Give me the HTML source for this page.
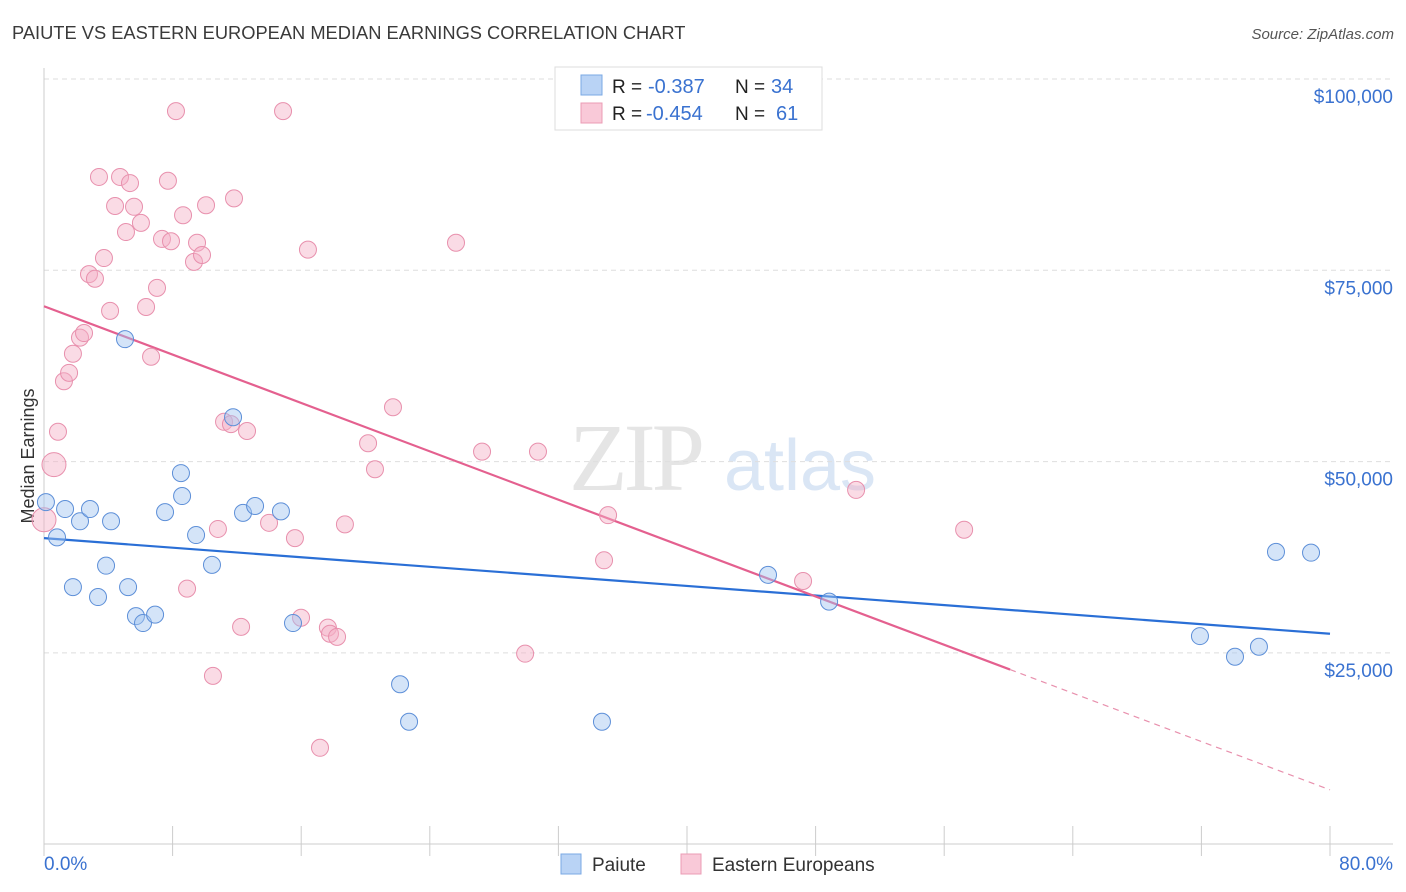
<!DOCTYPE html>
<html><head><meta charset="utf-8"><style>
body{margin:0;background:#fff;font-family:"Liberation Sans",sans-serif;}
svg{display:block}
</style></head><body>
<svg id="chart" width="1406" height="892" xmlns="http://www.w3.org/2000/svg">
<text x="12" y="39" font-size="18.3" fill="#3a3a3a">PAIUTE VS EASTERN EUROPEAN MEDIAN EARNINGS CORRELATION CHART</text>
<text x="1394" y="39" font-size="15" fill="#555" font-style="italic" text-anchor="end">Source: ZipAtlas.com</text>
<g>
<text x="635" y="490" font-size="96" fill="#e5e5e5" font-family="Liberation Serif, serif" text-anchor="middle" letter-spacing="-4">ZIP</text>
<text x="800" y="490" font-size="72" fill="#dae6f5" text-anchor="middle">atlas</text>
</g>
<g id="grid"></g>
<g id="axes"></g>
<text transform="translate(34,456) rotate(-90)" font-size="18" fill="#333" text-anchor="middle">Median Earnings</text>
<g id="lines"></g>
<g id="pts"></g>
<g>
<rect x="555" y="67" width="267" height="63" fill="#fff" stroke="#ddd"/>
<rect x="581" y="75" width="21" height="20" fill="#b9d3f5" stroke="#7aa8e4"/>
<rect x="581" y="103" width="21" height="20" fill="#f9c9d8" stroke="#eb9cb5"/>
<text x="612" y="93" font-size="19" fill="#222">R =</text>
<text x="648" y="93" font-size="20" fill="#3a72d0">-0.387</text>
<text x="735" y="93" font-size="19" fill="#222">N =</text>
<text x="771" y="93" font-size="20" fill="#3a72d0">34</text>
<text x="612" y="120" font-size="19" fill="#222">R =</text>
<text x="646" y="120" font-size="20" fill="#3a72d0">-0.454</text>
<text x="735" y="120" font-size="19" fill="#222">N =</text>
<text x="776" y="120" font-size="20" fill="#3a72d0">61</text>
</g>
<g>
<rect x="561" y="854" width="20" height="20" fill="#b9d3f5" stroke="#7aa8e4"/>
<text x="592" y="871" font-size="19" fill="#333">Paiute</text>
<rect x="681" y="854" width="20" height="20" fill="#f9c9d8" stroke="#eb9cb5"/>
<text x="712" y="871" font-size="19" fill="#333">Eastern Europeans</text>
</g>
</svg>
<script>
const yTicks=[25000,50000,75000,100000];
const yTickLabels=["$25,000","$50,000","$75,000","$100,000"];
const paiuteX=[0.12,0.81,1.31,1.80,2.24,2.86,3.36,3.86,4.17,5.04,5.23,5.72,6.16,6.91,7.53,8.52,8.59,9.46,10.45,11.76,12.38,13.13,14.74,15.49,22.15,22.71,34.71,45.04,48.84,71.91,74.09,75.58,76.64,78.82];
const paiuteY=[44.7,40.1,43.8,33.6,42.2,43.8,32.3,36.4,42.2,66.0,33.6,29.8,28.9,30.0,43.4,48.5,45.5,40.4,36.5,55.8,43.3,44.2,43.5,28.9,20.9,16.0,16.0,35.2,31.7,27.2,24.5,25.8,38.2,38.1];
const eastX=[0,0.62,0.87,1.24,1.56,1.80,2.24,2.49,2.80,3.17,3.42,3.73,4.11,4.42,4.73,5.10,5.35,5.60,6.03,6.35,6.66,7.03,7.34,7.71,7.90,8.21,8.65,8.90,9.33,9.52,9.83,10.08,10.51,10.82,11.20,11.63,11.82,12.26,12.63,14.00,14.87,15.61,15.99,16.42,17.17,17.66,17.79,18.23,18.72,20.16,20.59,21.71,25.63,27.25,29.93,30.73,34.84,35.09,47.22,50.52,57.24];
const eastY=[42.4,49.6,53.9,60.5,61.6,64.1,66.2,66.8,74.5,73.9,87.2,76.6,69.7,83.4,87.2,80.0,86.4,83.3,81.2,70.2,63.7,72.7,79.1,86.7,78.8,95.8,82.2,33.4,76.1,78.6,77.0,83.5,22.0,41.2,55.2,54.9,84.4,28.4,54.0,42.0,95.8,40.0,29.6,77.7,12.6,28.3,27.5,27.1,41.8,52.4,49.0,57.1,78.6,51.3,24.9,51.3,37.1,43.0,34.4,46.3,41.1];
const paiuteTrend=[40.0,27.5];
const eastTrend=[70.3,7.1];
const eastSolidEnd=60.1;

const NS="http://www.w3.org/2000/svg";
const X0=44,X1=1330,Y100=79,PX25=191.3;
function sx(p){return X0+p/80*(X1-X0);}
function sy(v){return Y100+(100000-v)/25000*PX25;}
function mk(tag,attrs,parent){const e=document.createElementNS(NS,tag);for(const k in attrs)e.setAttribute(k,attrs[k]);parent.appendChild(e);return e;}
const grid=document.getElementById('grid'),axes=document.getElementById('axes');
yTicks.forEach((t,i)=>{
  const g=mk('line',{x1:44,x2:1393,y1:sy(t),y2:sy(t),stroke:'#dedede','stroke-dasharray':'5,4'},grid);
  
  
  const tx=mk('text',{x:1393,y:sy(t)+24,'font-size':19,fill:'#3a72d0','text-anchor':'end'},axes);
  tx.textContent=yTickLabels[i];
  
  
});
let a=mk('line',{x1:44,x2:44,y1:68,y2:844,stroke:'#ccc'},axes);


a=mk('line',{x1:44,x2:1393,y1:844,y2:844,stroke:'#ccc'},axes);


for(let i=0;i<=10;i++){const t=mk('line',{x1:sx(i*8),x2:sx(i*8),y1:826,y2:856,stroke:'#ccc'},axes);
  
  }
let l=mk('text',{x:44,y:870,'font-size':19,fill:'#3a72d0'},axes);l.textContent='0.0%';


l=mk('text',{x:1393,y:870,'font-size':19,fill:'#3a72d0','text-anchor':'end'},axes);l.textContent='80.0%';



const pts=document.getElementById('pts');
eastX.forEach((x,i)=>{const c=mk('circle',{cx:sx(x),cy:sy(eastY[i]*1000),r:(x<0.7?12:8.5),fill:'rgba(245,175,198,0.45)',stroke:'#e890ad','stroke-width':1},pts);
  
  });
paiuteX.forEach((x,i)=>{const c=mk('circle',{cx:sx(x),cy:sy(paiuteY[i]*1000),r:8.5,fill:'rgba(160,195,240,0.45)',stroke:'#5d8fd8','stroke-width':1},pts);
  
  });

const lines=document.getElementById('lines');
let t=mk('line',{x1:sx(0),y1:sy(paiuteTrend[0]*1000),x2:sx(80),y2:sy(paiuteTrend[1]*1000),stroke:'#2a6fd6','stroke-width':2.2},lines);


const ey=x=>eastTrend[0]+(eastTrend[1]-eastTrend[0])*x/80;
t=mk('line',{x1:sx(0),y1:sy(ey(0)*1000),x2:sx(eastSolidEnd),y2:sy(ey(eastSolidEnd)*1000),stroke:'#e4608f','stroke-width':2.2},lines);


t=mk('line',{x1:sx(eastSolidEnd),y1:sy(ey(eastSolidEnd)*1000),x2:sx(80),y2:sy(ey(80)*1000),stroke:'#e890ad','stroke-width':1.2,'stroke-dasharray':'6,5'},lines);


</script>
</body></html>
